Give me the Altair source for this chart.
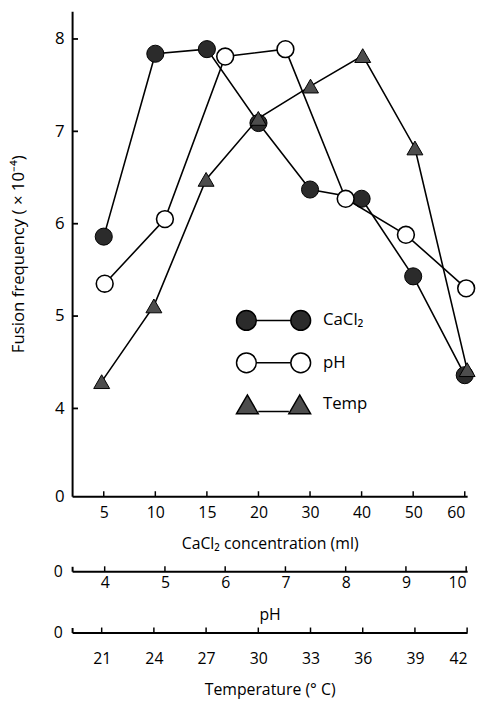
import altair as alt
import pandas as pd

# ---------------- data ----------------
cacl2_conc = [5, 10, 15, 20, 30, 40, 50, 60]
cacl2_freq = [5.86, 7.84, 7.89, 7.09, 6.37, 6.27, 5.43, 4.36]

ph_values = [4, 5, 6, 7, 8, 9, 10]
ph_freq = [5.35, 6.05, 7.81, 7.89, 6.27, 5.88, 5.30]

temp_values = [21, 24, 27, 30, 33, 36, 39, 42]
temp_freq = [4.29, 5.11, 6.48, 7.14, 7.49, 7.82, 6.82, 4.42]

y_ticks = [4, 5, 6, 7, 8]
series_names = ["CaCl₂", "pH", "Temp"]

# ---------------- layout / style ----------------
FONT = "Open Sans"
W = 400
H = 491
Y_DOMAIN = [3.05, 8.3]      # broken axis: bottom is labelled 0
PH_DOMAIN = [3.459, 10.016]
TEMP_DOMAIN = [19.30, 42.0]
CA_DOMAIN = [str(c) for c in cacl2_conc]
STRIP_H = 5

df_ca = pd.DataFrame({"conc": CA_DOMAIN, "freq": cacl2_freq})
df_ph = pd.DataFrame({"ph": ph_values, "freq": ph_freq, "zero": 0})
df_temp = pd.DataFrame({"temp": temp_values, "freq": temp_freq, "zero": 0})
df_yt = pd.DataFrame({"v": y_ticks})
df_leg = pd.DataFrame({"series": series_names})

y_enc = alt.Y(
    "freq:Q",
    scale=alt.Scale(domain=Y_DOMAIN, nice=False, zero=False),
    axis=alt.Axis(
        values=[Y_DOMAIN[0]] + y_ticks,
        labelExpr="datum.value < 3.5 ? '0' : format(datum.value, 'd')",
        ticks=False,
        grid=False,
        title="Fusion frequency ( × 10⁻⁴)",
        titleFontSize=17,
        titlePadding=27,
        labelPadding=8,
        labelFontSize=17,
    ),
)

ca_scale = alt.Scale(type="point", domain=CA_DOMAIN, padding=0.33, align=0.93)
ca_x = alt.X(
    "conc:O",
    scale=ca_scale,
    axis=alt.Axis(
        title="CaCl₂ concentration (ml)",
        labelAngle=0,
        ticks=False,
        labelPadding=9,
        titlePadding=15,
        labelFlush=5,
    ),
)

ca_base = alt.Chart(df_ca)
ca_line = ca_base.mark_line(color="black", strokeWidth=1.6).encode(x=ca_x, y=y_enc)
ca_pts = ca_base.mark_point(
    shape="circle", filled=True, fill="#2b2b2b", stroke="black",
    strokeWidth=1, size=300, opacity=1
).encode(x=ca_x, y="freq:Q")
ca_ticks = ca_base.mark_rule(color="black", strokeWidth=1.5).encode(
    x=ca_x, y=alt.value(H), y2=alt.value(H - 5)
)
ca_layer = alt.layer(ca_line, ca_ticks, ca_pts)

ph_x = alt.X("ph:Q", scale=alt.Scale(domain=PH_DOMAIN, nice=False, zero=False), axis=None)
ph_base = alt.Chart(df_ph)
ph_layer = alt.layer(
    ph_base.mark_line(color="black", strokeWidth=1.6).encode(x=ph_x, y="freq:Q"),
    ph_base.mark_point(
        shape="circle", filled=True, fill="white", stroke="black",
        strokeWidth=1.6, size=290, opacity=1
    ).encode(x=ph_x, y="freq:Q"),
)

temp_x = alt.X("temp:Q", scale=alt.Scale(domain=TEMP_DOMAIN, nice=False, zero=False), axis=None)
temp_base = alt.Chart(df_temp)
temp_layer = alt.layer(
    temp_base.mark_line(color="black", strokeWidth=1.6).encode(x=temp_x, y="freq:Q"),
    temp_base.mark_point(
        shape="triangle-up", filled=True, fill="#4d4d4d", stroke="black",
        strokeWidth=1, size=260, opacity=1
    ).encode(x=temp_x, y="freq:Q"),
)

ytick_layer = alt.Chart(df_yt).mark_rule(color="black", strokeWidth=1.8).encode(
    y=alt.Y("v:Q"), x=alt.value(0), x2=alt.value(6)
)

# legend: marker - line - marker symbols as custom paths (unit = 12 px)
path_filled = ("M-3.125,0 A0.833,0.833 0 1,1 -1.458,0 A0.833,0.833 0 1,1 -3.125,0 Z "
               "M-1.458,0 L1.458,0 "
               "M1.458,0 A0.833,0.833 0 1,1 3.125,0 A0.833,0.833 0 1,1 1.458,0 Z")
path_open = path_filled
path_tri = ("M-3.125,0.79 L-2.208,-0.79 L-1.292,0.79 Z "
            "M-1.292,0.6 L1.292,0.6 "
            "M1.292,0.79 L2.208,-0.79 L3.125,0.79 Z")

leg = alt.Legend(
    orient="none", legendX=191, legendY=300, title=None,
    symbolSize=576, symbolStrokeColor="black", symbolStrokeWidth=1.5,
    symbolOpacity=1, labelFont=FONT, labelFontSize=17, labelColor="black",
    labelOffset=37, rowPadding=15, padding=0,
)
legend_layer = alt.Chart(df_leg).mark_point(filled=True, stroke="black", opacity=0).encode(
    shape=alt.Shape("series:N", scale=alt.Scale(domain=series_names,
                                                range=[path_filled, path_open, path_tri]),
                    legend=leg),
    fill=alt.Fill("series:N", scale=alt.Scale(domain=series_names,
                                              range=["#2b2b2b", "white", "#4d4d4d"]),
                  legend=leg),
    stroke=alt.Stroke("series:N", scale=alt.Scale(domain=series_names,
                                                  range=["black", "black", "black"]),
                      legend=leg),
)

main = alt.layer(
    ca_layer, ph_layer, temp_layer, ytick_layer, legend_layer
).resolve_scale(x="independent").properties(width=W, height=H)


def strip(df, field, domain, values, title, label_pad, title_pad):
    sx = alt.X(f"{field}:Q", scale=alt.Scale(domain=domain, nice=False, zero=False),
               axis=alt.Axis(values=values, title=title, ticks=False,
                             labelPadding=label_pad, titlePadding=title_pad,
                             labelFlush=5, format="d"))
    ticks = alt.Chart(df).mark_rule(color="black", strokeWidth=1.5).encode(x=sx)
    zero_axis = alt.Chart(df).mark_point(opacity=0, size=4).encode(
        x=alt.X(f"{field}:Q"),
        y=alt.Y("zero:Q", scale=alt.Scale(domain=[0, 1]),
                axis=alt.Axis(values=[0], title=None, ticks=False, grid=False,
                              labelExpr="'0'", labelPadding=10, domainWidth=2)),
    )
    return alt.layer(ticks, zero_axis).properties(width=W, height=STRIP_H)


ph_strip = strip(df_ph, "ph", PH_DOMAIN, ph_values, "pH", 3, 17)
temp_strip = strip(df_temp, "temp", TEMP_DOMAIN, temp_values, "Temperature (° C)", 18, 16)

chart = alt.vconcat(
    main,
    alt.vconcat(ph_strip, temp_strip, spacing=2).resolve_scale(x="independent", y="independent"),
    spacing=12,
).resolve_scale(
    x="independent", y="independent"
).resolve_legend(
    shape="independent", fill="independent", stroke="independent"
).properties(
    padding={"left": 10, "top": 7, "right": 0, "bottom": 0}
).configure_axis(
    labelFont=FONT, titleFont=FONT, labelFontSize=16, titleFontSize=16,
    titleFontWeight="normal", labelColor="black", titleColor="black",
    domainColor="black", domainWidth=2, grid=False,
).configure_view(stroke=None)

chart.save("out.html", embed_options={"renderer": "svg", "actions": False})
